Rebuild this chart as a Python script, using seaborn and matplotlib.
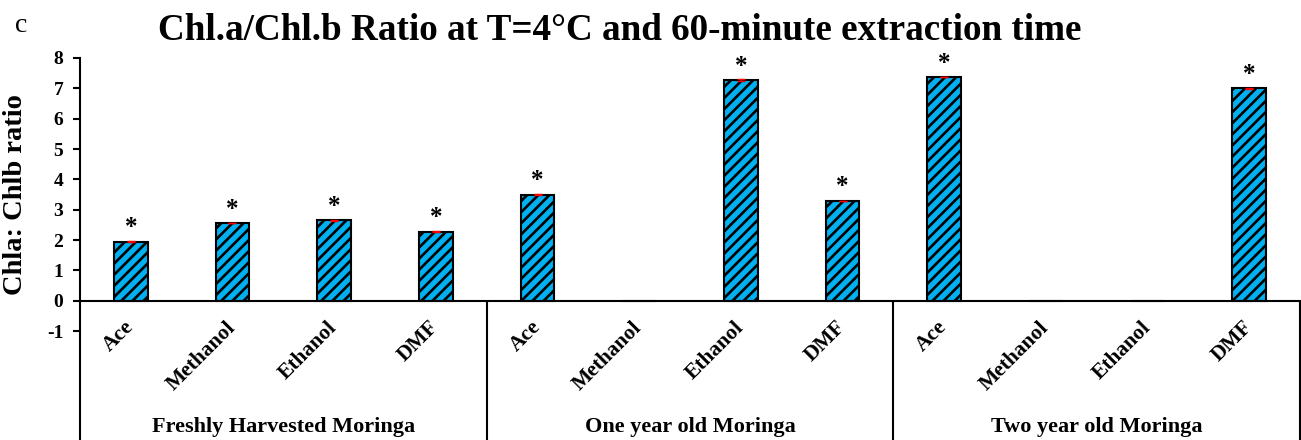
import numpy as np
import pandas as pd
import matplotlib
matplotlib.use('Agg')
import matplotlib.pyplot as plt
import seaborn as sns
from matplotlib.transforms import ScaledTranslation

# Datos
GRUPOS = ['Freshly Harvested Moringa', 'One year old Moringa', 'Two year old Moringa']
SOLVENTES = ['Ace', 'Methanol', 'Ethanol', 'DMF']
fresco = [1.95, 2.56, 2.65, 2.27]
un_anio = [3.49, 0.0, 7.27, 3.29]
dos_anios = [7.37, 0.0, 0.0, 7.00]
err_fresco = [0.03, 0.01, 0.01, 0.02]
err_un_anio = [0.01, np.nan, 0.04, 0.01]
err_dos_anios = [0.01, np.nan, np.nan, 0.01]

TITULO = 'Chl.a/Chl.b Ratio at T=4°C and 60-minute extraction time'

# Armo dataframe
valores = fresco + un_anio + dos_anios
errores = err_fresco + err_un_anio + err_dos_anios
slots = ['{}|{}'.format(g, s) for g in GRUPOS for s in SOLVENTES]
df = pd.DataFrame({'slot': slots, 'ratio': valores, 'err': errores})

sns.set_style('white')
plt.rcParams['font.family'] = ['Liberation Serif', 'DejaVu Serif']
plt.rcParams['axes.unicode_minus'] = False
plt.rcParams['hatch.linewidth'] = 1.9
plt.rcParams['hatch.color'] = 'black'
for clave in ['text.color', 'axes.labelcolor', 'xtick.color', 'ytick.color']:
	plt.rcParams[clave] = 'black'

fig = plt.figure(figsize=(13.01, 4.40), dpi=100)
ax = fig.add_axes([80 / 1301, 1 - 331 / 440, 1220 / 1301, 273 / 440])

sns.barplot(data=df, x='slot', y='ratio', order=slots, color='#00B0F0', saturation=1,
            width=0.33, edgecolor='black', linewidth=1.5, hatch='///', errorbar=None, ax=ax)
ok = df['err'].notna()
ax.errorbar(np.arange(len(slots))[ok], df['ratio'][ok], yerr=df['err'][ok], fmt='none',
            ecolor='red', elinewidth=1, capsize=3, capthick=1, zorder=5)

# Asteriscos
for i, v in enumerate(df['ratio']):
	if v > 0:
		ax.text(i, v + 0.08, '*', ha='center', va='bottom', fontsize=18, fontweight='bold')

ax.set_xlim(-0.5, 11.5)
ax.set_ylim(-1, 8)
ax.set_yticks(range(-1, 9))
ax.tick_params(axis='y', direction='out', length=5, width=1.5, left=True, labelsize=14, pad=7,
               colors='black')
plt.setp(ax.get_yticklabels(), fontweight='bold')

# Eje X en el cero
for s in ['top', 'right']:
	ax.spines[s].set_visible(False)
ax.spines['bottom'].set_position(('data', 0))
ax.spines['bottom'].set_linewidth(1.5)
ax.spines['bottom'].set_color('black')
ax.spines['left'].set_linewidth(1.5)
ax.spines['left'].set_color('black')

ax.set_xticks(range(len(slots)))
ax.set_xticklabels(SOLVENTES * 3, rotation=45, ha='right', va='top', fontsize=15.5, fontweight='bold')
ax.tick_params(axis='x', length=0, pad=12, colors='black')
desplazo = ScaledTranslation(7 / 100, 0, fig.dpi_scale_trans)
for lab in ax.get_xticklabels():
	lab.set_transform(lab.get_transform() + desplazo)
ax.set_xlabel('')

# Separadores de grupos
ax.plot([-0.5, -0.5], [-1, -5], color='black', lw=1.5, clip_on=False)
for xv in [3.5, 7.5, 11.5]:
	ax.plot([xv, xv], [0, -5], color='black', lw=1.5, clip_on=False)
for i, g in enumerate(GRUPOS):
	ax.text(i * 4 + 1.5, -4.15, g, ha='center', va='center', fontsize=16,
	        fontweight='bold', clip_on=False, color='black')

ax.set_ylabel('Chla: Chlb ratio', fontsize=20.5, fontweight='bold', color='black')
ax.yaxis.set_label_coords(-0.043, 0.5)

fig.text(620 / 1301, 1 - 30 / 440, TITULO, ha='center', va='center', fontsize=26.7,
         fontweight='bold', color='black')
fig.text(15 / 1301, 1 - 25 / 440, 'c', ha='left', va='center', fontsize=20, color='black')

plt.savefig('out.png', dpi=100)
